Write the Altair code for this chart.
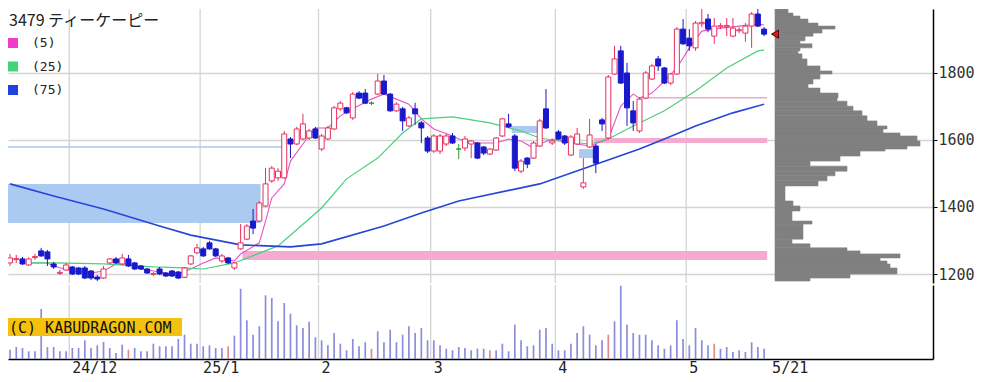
import altair as alt
import numpy as np
import pandas as pd

# ---- daily candles, index 0 = 2024-11-18 ... 121 = 2025-05-21 (yen) ----
opens = [1233,1243,1245,1227,1249,1269,1266,1230,1202,1212,
         1221,1218,1218,1209,1191,1188,1233,1245,1230,1245,
         1233,1224,1215,1199,1215,1203,1209,1206,1190,1230,
         1263,1275,1293,1275,1239,1248,1218,1275,1304,1358,
         1358,1403,1478,1487,1487,1603,1588,1603,1606,1633,
         1573,1603,1633,1693,1696,1666,1740,1740,1710,1737,
         1776,1737,1687,1693,1642,1693,1651,1606,1567,1567,
         1588,1612,1573,1576,1588,1591,1579,1558,1570,1612,
         1648,1612,1507,1546,1546,1582,1693,1591,1624,1612,
         1555,1588,1460,1579,1582,1660,1606,1797,1866,1800,
         1687,1627,1725,1782,1842,1815,1770,1797,1931,1904,
         1875,1947,1961,1910,1938,1938,1910,1926,1919,1940,
         1976,1931]
highs = [1260,1257,1251,1250,1260,1278,1272,1236,1212,1233,
         1224,1221,1224,1212,1197,1224,1248,1251,1260,1257,
         1236,1227,1218,1206,1221,1206,1212,1209,1221,1257,
         1290,1281,1299,1278,1260,1251,1236,1349,1349,1394,
         1418,1517,1522,1516,1627,1609,1639,1678,1633,1639,
         1618,1642,1702,1716,1699,1743,1746,1752,1716,1798,
         1794,1740,1713,1699,1672,1711,1657,1612,1618,1618,
         1618,1621,1588,1612,1600,1594,1582,1576,1609,1666,
         1678,1618,1543,1549,1597,1663,1752,1603,1630,1615,
         1615,1636,1546,1663,1588,1666,1794,1881,1881,1830,
         1716,1728,1806,1827,1851,1818,1800,1937,1961,1931,
         1955,2000,1976,1964,1949,1964,1964,1937,1949,1982,
         1991,1937]
lows = [1224,1233,1227,1224,1242,1251,1224,1215,1197,1209,
        1197,1197,1185,1182,1179,1185,1230,1230,1227,1221,
        1212,1212,1200,1194,1197,1191,1191,1185,1188,1227,
        1260,1251,1272,1251,1233,1230,1212,1272,1301,1319,
        1355,1400,1472,1478,1484,1546,1585,1600,1600,1603,
        1567,1600,1630,1687,1678,1660,1722,1707,1704,1734,
        1734,1684,1684,1627,1639,1645,1591,1561,1561,1558,
        1582,1588,1543,1567,1546,1543,1555,1555,1567,1609,
        1636,1507,1501,1516,1543,1579,1633,1585,1600,1585,
        1552,1585,1454,1576,1501,1627,1603,1794,1767,1642,
        1627,1621,1722,1779,1806,1767,1764,1794,1884,1866,
        1866,1937,1922,1887,1931,1910,1907,1919,1893,1875,
        1937,1910]
closes = [1248,1246,1230,1245,1252,1254,1245,1221,1205,1227,
          1200,1200,1188,1188,1185,1215,1245,1233,1248,1224,
          1215,1215,1203,1201,1200,1194,1194,1188,1218,1254,
          1278,1254,1275,1254,1254,1233,1233,1293,1343,1337,
          1412,1469,1516,1507,1618,1588,1633,1648,1627,1606,
          1612,1636,1696,1710,1681,1737,1725,1710,1710,1776,
          1737,1687,1707,1657,1666,1678,1636,1567,1612,1612,
          1612,1591,1573,1603,1597,1546,1561,1573,1606,1663,
          1639,1516,1537,1528,1591,1657,1636,1597,1603,1591,
          1609,1618,1472,1615,1531,1648,1788,1842,1770,1696,
          1651,1722,1800,1821,1821,1770,1797,1931,1887,1881,
          1949,1951,1931,1940,1941,1942,1934,1929,1940,1976,
          1940,1916]
volumes = [9.3,12,11,7.7,7.7,50,12,12,7.7,7.7,
           11,11,18.7,11,13.7,17,11,6,14.3,9.3,
           11,7.7,7.7,15.3,12.7,12.7,12.7,20,24.3,15.3,
           15.3,12.7,13.7,11,11,12.7,23.3,70.3,38.7,24.3,
           32.7,63.7,61,37.7,56,45.3,33.7,31,37.3,21.7,
           18.7,13.7,26,15.3,8.7,20,12.7,16.7,10.3,27.7,
           16.7,29.3,16.7,24.3,32.7,26,31,18.7,18.7,13.7,
           10.3,8.7,12,11,8.7,10.3,10.3,8.7,8.7,15.3,
           7.7,34.3,18.7,12.7,13.7,29.3,31,15.3,8.7,8.7,
           15.3,26,32.7,24.3,13.7,18.7,24.3,37.7,73.3,34.3,
           26,24.3,24.3,18.7,13.7,10.3,13.7,38.7,20,13.7,
           31,18.7,13.7,15.3,10.3,12,7,8.7,7,16.7,
           12,10.3]
vol_red_idx = [19, 35, 58, 77, 96, 113]

# moving averages (candle index, yen)
ma5_k = [3,6,7,10,13,15,17,19,21,25,27,29,31,33,36,37,40,41,42,44,45,47,49,51,53,55,58,60,62,64,
         66,68,71,72,75,78,80,82,84,85,87,89,91,93,96,98,100,101,103,105,107,109,111,114,117,120,121]
ma5_v = [1233,1233,1224,1209,1203,1209,1230,1230,1215,1203,1200,1215,1233,1248,1239,1260,1293,1358,1427,1469,
         1537,1588,1636,1636,1672,1693,1722,1737,1722,1707,1663,1633,1612,1603,1591,1591,1603,1597,1576,1588,
         1603,1597,1588,1582,1603,1701,1737,1725,1740,1776,1815,1875,1925,1934,1940,1946,1943]
ma25_k = [3,7,15,23,28,31,36,43,50,54,59,63,66,71,77,82,85,88,93,96,100,105,110,115,120,121]
ma25_v = [1233,1233,1230,1221,1218,1215,1233,1284,1397,1484,1546,1621,1663,1669,1651,1627,1606,1597,1588,1603,
          1642,1687,1746,1815,1866,1869]
ma75_k = [0,7,15,24,29,37,45,50,60,66,72,85,101,105,110,116,121]
ma75_v = [1469,1433,1394,1343,1316,1287,1281,1290,1343,1382,1418,1469,1573,1603,1642,1681,1707]

# shaded zones (candle index range, price range)
zone_k0 = [-1, 37.3, 93.7, 80.5, 91.3]
zone_k1 = [40.2, 121.5, 121.5, 85, 94]
zone_lo = [1352, 1242, 1591, 1621, 1546]
zone_hi = [1469, 1269, 1606, 1642, 1573]
zone_col = ["#abcaf2", "#f5abd0", "#f5abd0", "#abcaf2", "#abcaf2"]
hline_p = [1579, 1726]
hline_k0 = [-1, 101]
hline_k1 = [44, 121.5]
hline_col = ["#a8c8f0", "#f2a6cc"]

# volume-at-price profile
prof_edges = [2000,1991,1979,1970,1961,1949,1940,1931,1919,1910,1896,1887,1875,1866,1857,1842,1821,1806,1797,1782,
              1767,1755,1740,1725,1716,1701,1687,1672,1657,1642,1633,1621,1612,1597,1582,1573,1567,1552,1537,1522,
              1507,1493,1478,1463,1418,1403,1388,1358,1349,1304,1290,1278,1269,1260,1248,1239,1230,1218,1200,1188,1179]
prof_vol = [5,13,18,25,33,43,60,47,38,30,25,37,25,23,27,32,45,57,45,38,
            33,45,63,62,72,78,87,92,102,112,108,125,142,145,132,110,85,65,35,72,
            60,52,43,10,18,25,17,37,28,17,35,72,85,125,105,112,115,122,75,35]

month_first_idx = [10, 31, 50, 68, 88, 109]
month_labels = ["24/12", "25/1", "2", "3", "4", "5"]
last_label = "5/21"
price_ticks = [1200, 1400, 1600, 1800]

# ---------------- frames ----------------
df = pd.DataFrame({"k": range(len(opens)), "open": opens, "high": highs,
                   "low": lows, "close": closes, "vol": volumes})
df["dir"] = np.where(df.close > df.open, "up", np.where(df.close < df.open, "down", "doji"))
df["vcol"] = np.where(df.k.isin(vol_red_idx), "red", "base")
ma_dfs = [pd.DataFrame({"k": ma5_k, "v": ma5_v}),
          pd.DataFrame({"k": ma25_k, "v": ma25_v}),
          pd.DataFrame({"k": ma75_k, "v": ma75_v})]
zones = pd.DataFrame({"k0": zone_k0, "k1": zone_k1, "lo": zone_lo, "hi": zone_hi, "c": zone_col})
hlines = pd.DataFrame({"k0": hline_k0, "k1": hline_k1, "p": hline_p, "c": hline_col})
prof = pd.DataFrame({"hi": prof_edges[:-1], "lo": prof_edges[1:], "w": prof_vol})
prof["base"] = 0
grid = pd.DataFrame({"gx": [i - 0.5 for i in month_first_idx], "lab": month_labels})
last = pd.DataFrame({"k": [len(closes) - 1], "lab": [last_label], "close": [closes[-1]], "base": [0]})
one = pd.DataFrame({"a": [0]})

W, HT, HB = 925, 274, 74
XDOM = [0.476, 147.3]
GRID = "#d4d4d4"


def X(field, axis=None):
    return alt.X(field, type="quantitative", scale=alt.Scale(domain=XDOM, nice=False, zero=False), axis=axis)


YAX = alt.Axis(orient="right", values=price_ticks, format="d", grid=True, gridColor=GRID, gridWidth=1.3,
               tickSize=4, tickColor="#000", domainColor="#000", domainWidth=1.5,
               labelFont="DejaVu Sans Mono", labelFontSize=15, labelColor="#333",
               labelPadding=1, title=None)


def YP(field):
    return alt.Y(field, type="quantitative", scale=alt.Scale(domain=[1173.15, 1991], nice=False, zero=False), axis=YAX)


stroke_scale = alt.Scale(domain=["up", "down", "doji"], range=["#e8305e", "#1818cc", "#2a9a2a"])
fill_scale = alt.Scale(domain=["up", "down", "doji"], range=["#ffffff", "#1818cc", "#2a9a2a"])

vgrid = alt.Chart(grid).mark_rule(color=GRID, strokeWidth=1.3).encode(x=X("gx"))
zone_l = alt.Chart(zones).mark_rect(clip=True).encode(
    x=X("k0"), x2="k1", y=YP("lo"), y2="hi", color=alt.Color("c:N", scale=None))
hline_l = alt.Chart(hlines).mark_rule(clip=True, strokeWidth=1.5).encode(
    x=X("k0"), x2="k1", y=YP("p"), color=alt.Color("c:N", scale=None))
ma_cols = ["#e455c6", "#4ccf7c", "#2646d8"]
ma_w = [1.1, 1.2, 1.6]
ma_layers = [alt.Chart(d).mark_line(color=c, strokeWidth=w, clip=True).encode(x=X("k"), y=YP("v"))
             for d, c, w in zip(ma_dfs, ma_cols, ma_w)]
wick = alt.Chart(df).mark_rule(strokeWidth=1, clip=True).encode(
    x=X("k"), y=YP("low"), y2="high",
    stroke=alt.Stroke("dir:N", scale=stroke_scale, legend=None))
body = alt.Chart(df).mark_bar(size=5, strokeWidth=1, clip=True, orient="vertical").encode(
    x=X("k"), y=YP("open"), y2="close",
    fill=alt.Fill("dir:N", scale=fill_scale, legend=None),
    stroke=alt.Stroke("dir:N", scale=stroke_scale, legend=None))

legend_layers = [
    alt.Chart(one).mark_text(text="3479 ティーケーピー", font="Noto Sans CJK JP", fontSize=16,
                             align="left", baseline="alphabetic", color="#222").encode(
        x=alt.value(1), y=alt.value(16.5)),
]
for i, (lab, col) in enumerate(zip(["(5)", "(25)", "(75)"], ["#f03cc8", "#40d47c", "#2040e0"])):
    yy = 34 + i * 23.5
    legend_layers.append(alt.Chart(one).mark_rect(color=col).encode(
        x=alt.value(0), x2=alt.value(10), y=alt.value(yy - 5), y2=alt.value(yy + 5)))
    legend_layers.append(alt.Chart(one).mark_text(text=lab, font="DejaVu Sans Mono", fontSize=13,
                                                  align="left", baseline="middle", color="#222").encode(
        x=alt.value(24), y=alt.value(yy)))

main = alt.layer(vgrid, zone_l, hline_l, *ma_layers, wick, body, *legend_layers)

PX = alt.Scale(domain=[-767, 158], nice=False, zero=False)
prof_l = alt.Chart(prof).mark_rect(color="#808080", stroke="#808080", strokeWidth=0.6, clip=True).encode(
    x=alt.X("base:Q", scale=PX, axis=None), x2="w", y=YP("lo"), y2="hi")
tri = alt.Chart(last).mark_point(shape="triangle-left", size=65, filled=True, fill="#e01818",
                                 stroke="#5a0000", strokeWidth=1, opacity=1).encode(
    x=alt.X("base:Q", scale=PX, axis=None), y=YP("close"))
side = alt.layer(prof_l, tri)

top = alt.layer(main, side).resolve_scale(x="independent").properties(width=W, height=HT)

# ---- volume panel ----
XB = alt.Axis(orient="bottom", labels=False, ticks=False, grid=False, domainColor="#000",
              domainWidth=1.5, title=None)
VAX = alt.Axis(orient="right", labels=False, ticks=False, grid=False, domainColor="#000",
               domainWidth=1.5, title=None)
vgrid_b = alt.Chart(grid).mark_rule(color=GRID, strokeWidth=1.3).encode(x=X("gx", XB))
vol_l = alt.Chart(df).mark_bar(size=1.7, orient="vertical", clip=True).encode(
    x=X("k", XB),
    y=alt.Y("vol:Q", scale=alt.Scale(domain=[0, HB], nice=False), axis=VAX),
    color=alt.Color("vcol:N", scale=alt.Scale(domain=["base", "red"], range=["#8c8cdc", "#e08c8c"]),
                    legend=None))
box = alt.Chart(one).mark_rect(color="#f4c20e").encode(
    x=alt.value(0), x2=alt.value(174), y=alt.value(33), y2=alt.value(51))
credit = alt.Chart(one).mark_text(text="(C) KABUDRAGON.COM", font="DejaVu Sans Mono", fontSize=15,
                                  align="left", baseline="middle", color="#111").encode(
    x=alt.value(1), y=alt.value(42.5))
mlab = alt.Chart(grid).mark_text(font="DejaVu Sans Mono", fontSize=15, align="left", baseline="middle",
                                 dx=3, color="#222").encode(x=X("gx", XB), y=alt.value(HB + 9), text="lab:N")
dlab = alt.Chart(last).mark_text(font="DejaVu Sans Mono", fontSize=15, align="left", baseline="middle",
                                 dx=8, color="#222").encode(x=X("k", XB), y=alt.value(HB + 9), text="lab:N")
bottom = alt.layer(vgrid_b, vol_l, box, credit, mlab, dlab).properties(width=W, height=HB)

chart = alt.vconcat(top, bottom, spacing=0).resolve_scale(
    x="independent", y="independent").properties(padding=0, background="white").configure_view(stroke=None)

chart.save("out.html", embed_options={"renderer": "svg", "actions": False})
